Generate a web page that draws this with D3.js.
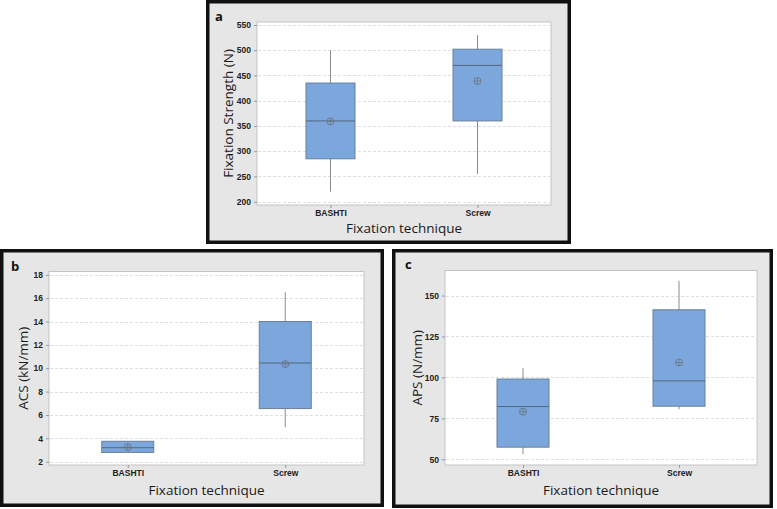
<!DOCTYPE html>
<html>
<head>
<meta charset="utf-8">
<script src="https://cdn.jsdelivr.net/npm/d3@7"></script>
<style>
  body { margin: 0; background: #fff; }
  svg { display: block; font-family: "Open Sans", "Noto Sans", sans-serif; }
</style>
</head>
<body>
<svg id="chart" width="777" height="509"></svg>
<script>
// Categories shared by all three panels
const categories = ["BASHTI", "Screw"];

// Box stats per category: [whisker low, Q1, median, Q3, whisker high]
const strengthBox = [[220, 285, 360, 435, 500], [255, 360, 470, 502, 530]];
const strengthMean = [359, 439];
const strengthTicks = [200, 250, 300, 350, 400, 450, 500, 550];

const acsBox = [[2.8, 2.8, 3.2, 3.75, 3.75], [4.95, 6.55, 10.45, 14.0, 16.5]];
const acsMean = [3.25, 10.35];
const acsTicks = [2, 4, 6, 8, 10, 12, 14, 16, 18];

const apsBox = [[53, 57.4, 82.2, 99, 105.6], [80.6, 82.4, 97.9, 141.3, 159]];
const apsMean = [79.1, 109.1];
const apsTicks = [50, 75, 100, 125, 150];

const svg = d3.select("#chart");

// Draw one framed panel
function drawPanel(p) {
  const g = svg.append("g");

  // Grey panel with heavy black frame
  g.append("rect")
    .attr("x", p.box[0] + 1.75)
    .attr("y", p.box[1] + 1.75)
    .attr("width", p.box[2] - p.box[0] - 3.5)
    .attr("height", p.box[3] - p.box[1] - 3.5)
    .attr("fill", "#e6e6e6")
    .attr("stroke", "#111")
    .attr("stroke-width", 3.5);

  const x = d3.scalePoint().domain(categories).range([p.plot[0], p.plot[2]]).padding(0.5);
  const y = d3.scaleLinear().domain(p.domain).range([p.plot[3], p.plot[1]]);

  // White plot area
  g.append("rect")
    .attr("x", p.plot[0])
    .attr("y", p.plot[1])
    .attr("width", p.plot[2] - p.plot[0])
    .attr("height", p.plot[3] - p.plot[1])
    .attr("fill", "#fff")
    .attr("stroke", "#c4c4c4")
    .attr("stroke-width", 1);

  // Dashed gridlines
  g.selectAll(".grid")
    .data(p.ticks)
    .enter()
    .append("line")
    .attr("x1", p.plot[0] + 1)
    .attr("x2", p.plot[2] - 1)
    .attr("y1", (d) => Math.round(y(d)) + 0.5)
    .attr("y2", (d) => Math.round(y(d)) + 0.5)
    .attr("stroke", "#dedede")
    .attr("stroke-dasharray", "3,2");

  // Y axis
  const yAxis = g.append("g")
    .attr("transform", `translate(${p.plot[0]},0)`)
    .call(d3.axisLeft(y).tickValues(p.ticks).tickSize(3).tickPadding(3));
  yAxis.select(".domain").remove();
  yAxis.selectAll(".tick line").attr("stroke", "#999");
  yAxis.selectAll(".tick text")
    .attr("fill", "#222")
    .style("font-size", "8.5px")
    .style("font-weight", "600");

  // X axis labels
  const xAxis = g.append("g")
    .attr("transform", `translate(0,${p.plot[3]})`)
    .call(d3.axisBottom(x).tickSize(3).tickPadding(2));
  xAxis.select(".domain").remove();
  xAxis.selectAll(".tick line").attr("stroke", "#999");
  xAxis.selectAll(".tick text")
    .attr("fill", "#222")
    .style("font-size", "8.5px")
    .style("font-weight", "600");

  const bw = p.boxWidth;

  // Whiskers
  g.selectAll(".whisker")
    .data(p.stats)
    .enter()
    .append("line")
    .attr("x1", (d, i) => x(categories[i]))
    .attr("x2", (d, i) => x(categories[i]))
    .attr("y1", (d) => y(d[0]))
    .attr("y2", (d) => y(d[4]))
    .attr("stroke", "#8a8a8a")
    .attr("stroke-width", 1);

  // Boxes
  g.selectAll(".box")
    .data(p.stats)
    .enter()
    .append("rect")
    .attr("x", (d, i) => x(categories[i]) - bw / 2)
    .attr("y", (d) => y(d[3]))
    .attr("width", bw)
    .attr("height", (d) => y(d[1]) - y(d[3]))
    .attr("fill", "#7ba7dc")
    .attr("stroke", "#6a7f99")
    .attr("stroke-width", 1);

  // Medians
  g.selectAll(".median")
    .data(p.stats)
    .enter()
    .append("line")
    .attr("x1", (d, i) => x(categories[i]) - bw / 2)
    .attr("x2", (d, i) => x(categories[i]) + bw / 2)
    .attr("y1", (d) => y(d[2]))
    .attr("y2", (d) => y(d[2]))
    .attr("stroke", "#55667a")
    .attr("stroke-width", 1);

  // Mean symbols (circle with cross)
  const mean = g.selectAll(".mean")
    .data(p.means)
    .enter()
    .append("g")
    .attr("transform", (d, i) => `translate(${x(categories[i])},${y(d)})`);
  mean.append("circle")
    .attr("r", 3.5)
    .attr("fill", "none")
    .attr("stroke", "#6b7686")
    .attr("stroke-width", 0.9);
  mean.append("path")
    .attr("d", "M-3.5,0H3.5M0,-3.5V3.5")
    .attr("stroke", "#6b7686")
    .attr("stroke-width", 0.8);

  // Titles
  g.append("text")
    .attr("x", (p.plot[0] + p.plot[2]) / 2)
    .attr("y", p.xTitleY)
    .attr("text-anchor", "middle")
    .attr("fill", "#1a1a1a")
    .style("font-size", "13.5px")
    .style("font-weight", "500")
    .text("Fixation technique");

  g.append("text")
    .attr("transform", `translate(${p.yTitleX},${(p.plot[1] + p.plot[3]) / 2}) rotate(-90)`)
    .attr("text-anchor", "middle")
    .attr("fill", "#1a1a1a")
    .style("font-size", "13.5px")
    .style("font-weight", "500")
    .text(p.yTitle);

  g.append("text")
    .attr("x", p.label[0])
    .attr("y", p.label[1])
    .attr("fill", "#111")
    .style("font-size", "13px")
    .style("font-weight", "bold")
    .text(p.name);
}

drawPanel({
  name: "a",
  box: [206, 0, 571, 244],
  plot: [257, 22, 551, 205],
  domain: [193.5, 555.9],
  ticks: strengthTicks,
  stats: strengthBox,
  means: strengthMean,
  boxWidth: 49,
  yTitle: "Fixation Strength (N)",
  yTitleX: 233,
  xTitleY: 233,
  label: [215, 21]
});

drawPanel({
  name: "b",
  box: [0, 249, 384, 507],
  plot: [49, 271.5, 364, 465],
  domain: [1.72, 18.28],
  ticks: acsTicks,
  stats: acsBox,
  means: acsMean,
  boxWidth: 52,
  yTitle: "ACS (kN/mm)",
  yTitleX: 28,
  xTitleY: 495,
  label: [11, 271]
});

drawPanel({
  name: "c",
  box: [392, 249, 773, 508],
  plot: [445, 270.5, 757, 465],
  domain: [46.5, 165.3],
  ticks: apsTicks,
  stats: apsBox,
  means: apsMean,
  boxWidth: 52,
  yTitle: "APS (N/mm)",
  yTitleX: 422,
  xTitleY: 495,
  label: [405, 269]
});
</script>
</body>
</html>
